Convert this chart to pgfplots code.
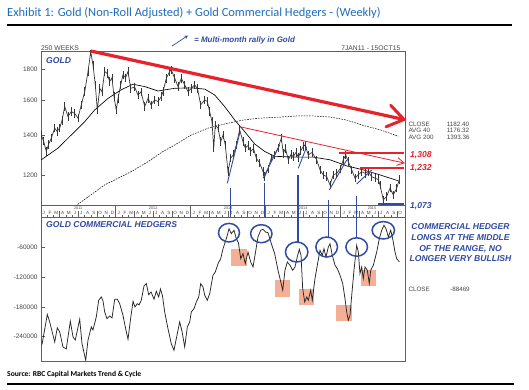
\documentclass[border=0pt]{standalone}
\usepackage{pgfplots}
\pgfplotsset{compat=1.18}
\usepackage{fontspec}
\setmainfont{Liberation Sans}
\newfontfamily\calib{Carlito}
\definecolor{titleblue}{RGB}{30,110,190}
\definecolor{annblue}{RGB}{50,75,160}
\definecolor{redann}{RGB}{230,35,45}
\definecolor{salmon}{RGB}{245,175,150}
\definecolor{framegray}{RGB}{95,95,95}
\definecolor{txtgray}{RGB}{70,70,70}
\definecolor{pricegray}{RGB}{55,55,55}
\pgfplotsset{
  chartaxis/.style={
    scale only axis, anchor=south west,
    xmin=2011, xmax=2015.8533,
    xtick=\empty,
    ytick pos=left, tick align=inside,
    major tick length=4bp,
    axis line style={framegray, line width=0.9bp},
    every tick/.style={framegray, line width=0.7bp},
    yticklabel style={font=\fontsize{6.5}{7}\selectfont, text=txtgray},
    clip=true,
  }
}
\tikzset{px/.style={x=1bp, y=-1bp, shift={(0bp,390bp)}}}
\begin{document}
\begin{tikzpicture}
\fill[white] (0,0) rectangle (529bp,390bp);
\path[use as bounding box] (0,0) rectangle (529bp,390bp);
% salmon boxes beneath the hedger line
\begin{scope}[px]
\fill[salmon] (231.3,249.3) rectangle (247.3,266);
\fill[salmon] (274.7,280) rectangle (290,297);
\fill[salmon] (299,288.7) rectangle (314,304.7);
\fill[salmon] (336,304.7) rectangle (351.7,321);
\fill[salmon] (360.7,270.3) rectangle (376,286);
\end{scope}

% ---------------- upper panel: gold ----------------
\begin{axis}[chartaxis, at={(41bp,185bp)}, width=364bp, height=154bp,
  ymode=log, ymin=1073, ymax=1927,
  ytick={1200,1400,1600,1800}, yticklabels={1200,1400,1600,1800}]
\addplot[black, line width=0.5bp, dash pattern=on 1.6bp off 1.1bp] coordinates {
(2011.387,1030) (2011.493,1076) (2011.849,1158) (2012.204,1218) (2012.427,1265)
(2012.627,1315) (2012.783,1348) (2013.004,1400) (2013.227,1437) (2013.449,1460)
(2013.671,1480) (2013.893,1492) (2014.204,1499) (2014.409,1505) (2014.631,1505)
(2014.853,1499) (2015.076,1482) (2015.297,1452) (2015.520,1428) (2015.764,1393)};
\addplot[black, line width=0.65bp] coordinates {
(2011.004,1274) (2011.227,1332) (2011.404,1400) (2011.583,1473) (2011.716,1540)
(2011.893,1609) (2012.071,1663) (2012.227,1698) (2012.383,1683) (2012.560,1655)
(2012.783,1672) (2013.004,1675) (2013.183,1667) (2013.316,1630) (2013.449,1560)
(2013.583,1482) (2013.716,1418) (2013.849,1353) (2013.983,1315) (2014.116,1291)
(2014.409,1287) (2014.631,1287) (2014.853,1274) (2015.076,1245) (2015.297,1226)
(2015.520,1203) (2015.764,1176)};
\addplot[pricegray, line width=0.7bp, mark=none, error bars/.cd, y dir=both,
  y fixed relative=0.016, error mark=none,
  error bar style={line width=0.8bp, pricegray}] coordinates {
(2011.004,1400) (2011.033,1370) (2011.071,1315) (2011.100,1350) (2011.137,1383)
(2011.183,1437) (2011.213,1420) (2011.249,1437) (2011.280,1480) (2011.316,1560)
(2011.360,1502) (2011.404,1530) (2011.449,1520) (2011.493,1493) (2011.537,1570)
(2011.583,1651) (2011.627,1782) (2011.663,1922) (2011.693,1828) (2011.724,1694)
(2011.751,1540) (2011.783,1672) (2011.813,1650) (2011.849,1782) (2011.880,1770)
(2011.916,1716) (2011.947,1740) (2011.973,1620) (2012.004,1540) (2012.027,1609)
(2012.063,1694) (2012.093,1760) (2012.127,1740) (2012.160,1782) (2012.196,1672)
(2012.249,1680) (2012.293,1630) (2012.333,1650) (2012.383,1560) (2012.427,1609)
(2012.467,1570) (2012.516,1600) (2012.560,1590) (2012.604,1620) (2012.627,1651)
(2012.671,1737) (2012.716,1782) (2012.737,1793) (2012.783,1737) (2012.827,1683)
(2012.871,1737) (2012.916,1694) (2012.960,1651) (2013.004,1672) (2013.049,1694)
(2013.087,1670) (2013.129,1570) (2013.183,1600) (2013.217,1590) (2013.249,1530)
(2013.280,1473) (2013.303,1332) (2013.324,1455) (2013.360,1437) (2013.396,1365)
(2013.427,1400) (2013.457,1348) (2013.493,1218) (2013.529,1282) (2013.567,1300)
(2013.604,1348) (2013.649,1428) (2013.693,1365) (2013.724,1332) (2013.760,1345)
(2013.796,1315) (2013.833,1330) (2013.871,1282) (2013.916,1258) (2013.960,1218)
(2013.983,1195) (2014.027,1230) (2014.071,1282) (2014.116,1298) (2014.160,1332)
(2014.204,1383) (2014.231,1306) (2014.260,1330) (2014.297,1274) (2014.333,1300)
(2014.364,1290) (2014.400,1310) (2014.433,1285) (2014.464,1320) (2014.497,1340)
(2014.520,1348) (2014.564,1298) (2014.613,1310) (2014.676,1274) (2014.720,1226)
(2014.764,1203) (2014.809,1195) (2014.853,1158) (2014.897,1203) (2014.943,1210)
(2014.987,1230) (2015.031,1274) (2015.063,1298) (2015.097,1265) (2015.143,1226)
(2015.187,1188) (2015.231,1203) (2015.276,1218) (2015.320,1210) (2015.364,1218)
(2015.409,1195) (2015.453,1188) (2015.497,1182) (2015.520,1158) (2015.564,1094)
(2015.609,1108) (2015.653,1144) (2015.697,1115) (2015.743,1144) (2015.777,1182)};
\end{axis}

% ---------------- lower panel: commercial hedgers ----------------
\begin{axis}[chartaxis, at={(41bp,29bp)}, width=364bp, height=144bp,
  ymin=-289000, ymax=2000, scaled y ticks=false,
  ytick={-240000,-180000,-120000,-60000},
  yticklabels={-240000,-180000,-120000,-60000}]
\addplot[black!85, line width=0.75bp, mark=none] coordinates {
(2011.013,-256000) (2011.084,-195000) (2011.116,-210000) (2011.183,-250500)
(2011.217,-222000) (2011.249,-230000) (2011.293,-260600) (2011.337,-264600)
(2011.391,-208700) (2011.427,-240400) (2011.457,-246500) (2011.516,-204600)
(2011.547,-254000) (2011.596,-287500) (2011.627,-246500) (2011.671,-220200)
(2011.693,-226300) (2011.737,-200000) (2011.769,-166300) (2011.804,-159600)
(2011.827,-167700) (2011.849,-189900) (2011.880,-203400) (2011.916,-198000)
(2011.947,-202000) (2011.983,-164200) (2012.017,-164200) (2012.049,-173100)
(2012.093,-196600) (2012.124,-220200) (2012.160,-245100) (2012.196,-202000)
(2012.227,-168300) (2012.253,-179800) (2012.284,-173100) (2012.307,-175800)
(2012.337,-166300) (2012.373,-137400) (2012.404,-132700) (2012.436,-154900)
(2012.467,-149500) (2012.507,-164200) (2012.537,-148100) (2012.569,-159600)
(2012.593,-143400) (2012.620,-157600) (2012.649,-189900) (2012.693,-223600)
(2012.737,-253900) (2012.773,-267300) (2012.804,-243800) (2012.849,-210100)
(2012.880,-228900) (2012.916,-260600) (2012.951,-220200) (2012.983,-210100)
(2013.004,-189900) (2013.040,-183200) (2013.071,-169700) (2013.103,-159600)
(2013.129,-132700) (2013.160,-139400) (2013.183,-156200) (2013.217,-166300)
(2013.249,-152900) (2013.293,-115800) (2013.324,-109100) (2013.360,-92300)
(2013.396,-82200) (2013.427,-62000) (2013.449,-51900) (2013.484,-35000)
(2013.507,-21600) (2013.537,-31700) (2013.573,-24800) (2013.604,-41800)
(2013.633,-50500) (2013.663,-82200) (2013.693,-72100) (2013.724,-92300)
(2013.760,-68700) (2013.796,-88900) (2013.827,-99000) (2013.857,-72100)
(2013.893,-38400) (2013.929,-24800) (2013.960,-22800) (2013.993,-28300)
(2014.027,-29700) (2014.071,-51900) (2014.116,-72100) (2014.160,-105700)
(2014.187,-122600) (2014.223,-146100) (2014.253,-105700) (2014.284,-88900)
(2014.320,-95600) (2014.356,-105700) (2014.387,-99000) (2014.417,-78800)
(2014.444,-63200) (2014.467,-75400) (2014.489,-142800) (2014.516,-169700)
(2014.543,-159600) (2014.564,-166300) (2014.596,-146100) (2014.617,-166300)
(2014.653,-122600) (2014.684,-95600) (2014.720,-65300) (2014.751,-75400)
(2014.773,-62000) (2014.800,-78800) (2014.831,-58600) (2014.853,-51900)
(2014.884,-75400) (2014.920,-95600) (2014.951,-102400) (2014.987,-115800)
(2015.023,-132700) (2015.053,-163000) (2015.076,-189900) (2015.097,-206700)
(2015.120,-196600) (2015.143,-156200) (2015.173,-105700) (2015.209,-55200)
(2015.231,-68700) (2015.253,-112500) (2015.276,-99000) (2015.297,-122600)
(2015.320,-99000) (2015.351,-105700) (2015.377,-132700) (2015.396,-105700)
(2015.431,-95600) (2015.476,-68700) (2015.511,-41800) (2015.543,-24800)
(2015.573,-14700) (2015.600,-21600) (2015.631,-38400) (2015.663,-24800)
(2015.689,-41800) (2015.720,-68700) (2015.743,-82200) (2015.777,-88469)};
\end{axis}

% ---------------- annotations (pixel coordinates, y downwards) ----------------
\begin{scope}[px]
% title and rules
\node[anchor=base west, inner sep=0, text=titleblue, font=\calib\fontsize{12.5}{14}\selectfont] at (7,16.2)
  {Exhibit 1: Gold (Non-Roll Adjusted) + Gold Commercial Hedgers - (Weekly)};
\draw[black, line width=1.1bp] (7,25) -- (512,25);
\node[anchor=base west, inner sep=0, font=\calib\bfseries\fontsize{7.6}{9}\selectfont] at (7,376.7)
  {Source: RBC Capital Markets Trend \& Cycle};
\draw[black, line width=1.1bp] (7,384) -- (514,384);

% header texts
\node[anchor=west, inner sep=0, text=txtgray, font=\fontsize{6.8}{7}\selectfont] at (41,47.8) {250 WEEKS};
\node[anchor=east, inner sep=0, text=txtgray, font=\fontsize{6.8}{7}\selectfont] at (400.5,47.8) {7JAN11 - 15OCT15};
\draw[annblue, line width=0.7bp, -stealth] (172,46) -- (188,35.5);
\node[anchor=west, inner sep=0, text=annblue, font=\bfseries\itshape\fontsize{8}{9}\selectfont] at (194,40.3) {= Multi-month rally in Gold};
\node[anchor=west, inner sep=0, text=annblue, font=\bfseries\itshape\fontsize{8.6}{9}\selectfont] at (46,60.5) {GOLD};
\node[anchor=west, inner sep=0, text=annblue, font=\bfseries\itshape\fontsize{8.6}{9}\selectfont] at (46,225) {GOLD COMMERCIAL HEDGERS};

% date strip
\draw[framegray, line width=0.9bp] (41,205) rectangle (405,217);
\foreach \xs in {115.7,190.7,265.7,340.7} {\draw[framegray, line width=0.6bp] (\xs,205) -- (\xs,217);}
\foreach \yr/\xc in {2011/78.2,2012/153.2,2013/228.2,2014/303.2,2015/372} {
  \node[inner sep=0, text=txtgray, font=\fontsize{3.8}{4}\selectfont] at (\xc,208.6) {\yr};}
\foreach \i in {0,...,4} {
  \foreach \l [count=\m from 0] in {J,F,M,A,M,J,J,A,S,O,N,D} {
    \pgfmathsetmacro\xm{40.7+75*\i+6.25*\m+3.125}
    \pgfmathsetmacro\xt{40.7+75*\i+6.25*\m}
    \pgfmathtruncatemacro\idx{12*\i+\m}
    \ifnum\idx<58
      \node[inner sep=0, text=txtgray, font=\fontsize{4.6}{5}\selectfont] at (\xm,213.4) {\l};
      \ifnum\m>0
        \pgfmathtruncatemacro\q{mod(\m,3)}
        \ifnum\q=0 \draw[framegray, line width=0.5bp] (\xt,217) -- (\xt,211); \else
        \draw[framegray, line width=0.4bp] (\xt,217) -- (\xt,215.2); \fi
      \fi
    \fi
  }
}
\foreach \w in {0,...,249} {\draw[framegray, line width=0.25bp] ({41+1.44*\w},205) -- ({41+1.44*\w},206.4);}

% red trend lines
\draw[redann, line width=3.2bp] (90.7,51) -- (403,119.3);
\draw[redann, line width=3bp, line cap=round] (390.7,105.3) -- (404,119.5) -- (386.0,126.8);
\draw[redann, line width=0.8bp] (239.7,126.7) -- (404,163);
\draw[redann, line width=0.8bp] (396.3,165.4) -- (404,163) -- (398.0,157.6);
\draw[redann, line width=1.7bp] (339,152.7) -- (404,152.7);
\draw[redann, line width=1.7bp] (360,167.7) -- (404,167.7);
\draw[annblue, line width=2bp] (378,204.3) -- (404,204.3);
\node[anchor=west, inner sep=0, text=redann, font=\bfseries\itshape\fontsize{8.6}{9}\selectfont] at (410,155.3) {1,308};
\node[anchor=west, inner sep=0, text=redann, font=\bfseries\itshape\fontsize{8.6}{9}\selectfont] at (410,168.3) {1,232};
\node[anchor=west, inner sep=0, text=annblue, font=\bfseries\itshape\fontsize{8.6}{9}\selectfont] at (410,206.2) {1,073};

% close / averages
\begin{scope}[every node/.style={anchor=west, inner sep=0, text=txtgray, font=\fontsize{6.3}{7}\selectfont}]
\node at (408.3,124.3) {CLOSE}; \node at (446.7,124.3) {1182.40};
\node at (408.3,130.7) {AVG 40}; \node at (446.7,130.7) {1176.32};
\node at (408.3,136.9) {AVG 200}; \node at (446.7,136.9) {1393.36};
\node at (408.3,289) {CLOSE}; \node at (450,289) {-88469};
\end{scope}
\node[anchor=north, inner sep=0, align=center, text=annblue, font=\bfseries\itshape\fontsize{8.6}{10.7}\selectfont] at (460.5,223.6)
  {COMMERCIAL HEDGER\\LONGS AT THE MIDDLE\\OF THE RANGE, NO\\LONGER VERY BULLISH};

% blue markers: rallies, verticals, circles
\begin{scope}[annblue, line width=0.9bp]
\draw (227.3,183.3) -- (239.7,133.3);
\draw (263,178.3) -- (279.7,145);
\draw (298.3,168.3) -- (306.7,146.7);
\draw (329.3,190) -- (346.7,160);
\draw (356.7,184) -- (371.7,170);
\end{scope}
\begin{scope}[annblue, line width=1.5bp]
\draw (230.3,188) -- (230.3,217);
\draw (264.3,183) -- (264.3,217);
\draw (297.8,175) -- (297.8,242);
\draw (328.7,200) -- (328.7,237);
\draw (356.3,196.5) -- (356.3,238);
\draw (229,232.7) ellipse [x radius=10.5, y radius=9.3];
\draw (261.3,233.7) ellipse [x radius=10.7, y radius=9];
\draw (296.7,252) ellipse [x radius=11.2, y radius=10];
\draw (326.7,247) ellipse [x radius=10.8, y radius=10];
\draw (356.7,247) ellipse [x radius=10.8, y radius=9.2];
\draw (383.3,230.3) ellipse [x radius=11.2, y radius=8.7];
\end{scope}
\end{scope}
\end{tikzpicture}
\end{document}
